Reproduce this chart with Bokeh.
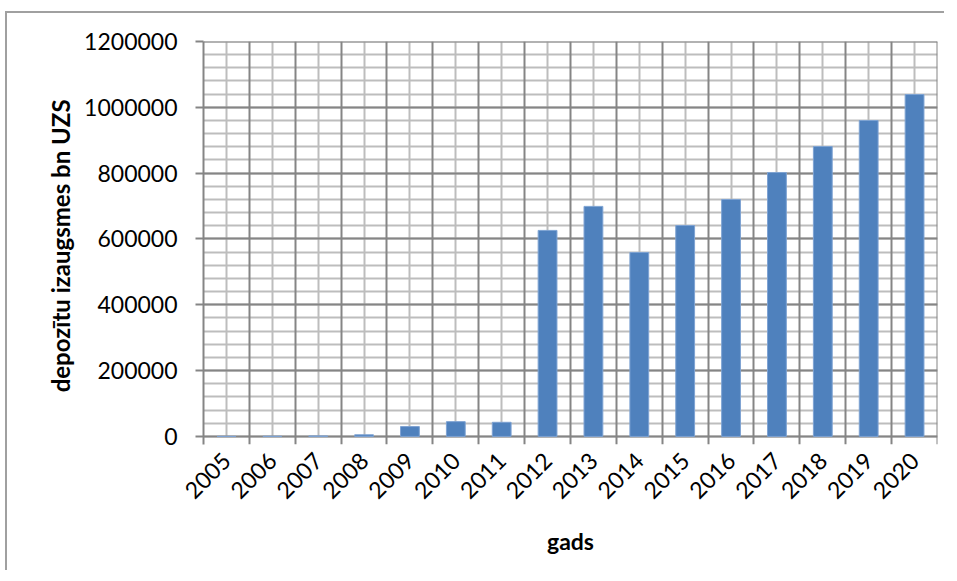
import math
from bokeh.plotting import figure
from bokeh.models import (Range1d, FixedTicker, SingleIntervalTicker, Grid,
                          CustomJSTickFormatter, ColumnDataSource)
from bokeh.embed import file_html
from bokeh.resources import INLINE

years = ["2005", "2006", "2007", "2008", "2009", "2010", "2011", "2012",
         "2013", "2014", "2015", "2016", "2017", "2018", "2019", "2020"]
deposits = [0, 300, 1500, 5000, 30000, 45000, 43000, 626000,
            699000, 559000, 641000, 720000, 802000, 881000, 960000, 1039000]
y_max = 1200000
y_step = 200000

n = len(years)
xs = [i + 0.5 for i in range(n)]
src = ColumnDataSource(dict(x=xs, top=deposits, year=years))

FONT = "Lato"
DARK = "#858585"
LIGHT = "#bdbdbd"

p = figure(width=939, height=559,
           x_range=Range1d(0, n + 1e-4),
           y_range=Range1d(-24500, y_max * 1.000001),
           output_backend="svg", toolbar_location=None,
           min_border_left=196, min_border_top=28, min_border_right=9,
           min_border_bottom=128)
p.margin = (11, 0, 0, 5)
p.styles = {"border-left": "2px solid #a0a0a0", "border-top": "2px solid #a0a0a0"}
p.outline_line_color = None
p.background_fill_color = "white"

# grids
p.xgrid.ticker = FixedTicker(ticks=xs)
p.xgrid.grid_line_color = LIGHT
p.xgrid.grid_line_width = 2
p.xgrid.cross_bounds = (0, y_max)

yt = SingleIntervalTicker(interval=y_step, num_minor_ticks=5)
p.ygrid.ticker = yt
p.ygrid.bounds = (0, y_max)
p.ygrid.grid_line_color = DARK
p.ygrid.grid_line_width = 2
p.ygrid.minor_grid_line_color = LIGHT
p.ygrid.minor_grid_line_width = 2

major_x = Grid(dimension=0, ticker=FixedTicker(ticks=list(range(1, n + 1))),
               grid_line_color=DARK, grid_line_width=2)
p.add_layout(major_x)

p.vbar(x="x", top="top", width=0.41, source=src, fill_color="#4f81bd",
       line_color="#7ea3d3", line_width=1)

# x axis
p.xaxis.ticker = FixedTicker(ticks=xs)
p.xaxis.formatter = CustomJSTickFormatter(args=dict(labels=years),
                                          code="return labels[Math.floor(tick)]")
p.xaxis.major_label_orientation = math.pi / 4
p.xaxis.axis_line_color = None
p.xaxis.major_tick_line_color = None
p.xaxis.minor_tick_line_color = None
p.xaxis.major_label_text_font = FONT
p.xaxis.major_label_text_font_size = "23px"
p.xaxis.major_label_text_color = "black"
p.xaxis.major_label_standoff = 6
p.xaxis.axis_label = "gads"
p.xaxis.axis_label_text_font = FONT
p.xaxis.axis_label_text_font_style = "bold"
p.xaxis.axis_label_text_font_size = "23px"
p.xaxis.axis_label_text_color = "black"
p.xaxis.axis_label_standoff = 18

# y axis
p.yaxis.ticker = yt
p.yaxis.formatter.use_scientific = False
p.yaxis.axis_line_color = DARK
p.yaxis.axis_line_width = 2
p.yaxis.major_tick_line_color = DARK
p.yaxis.major_tick_line_width = 2
p.yaxis.major_tick_in = 0
p.yaxis.major_tick_out = 8
p.yaxis.minor_tick_line_color = None
p.yaxis.major_label_text_font = FONT
p.yaxis.major_label_text_font_size = "23px"
p.yaxis.major_label_text_color = "black"
p.yaxis.major_label_standoff = 18
p.yaxis.axis_label = "depozītu izaugsmes  bn UZS"
p.yaxis.axis_label_text_font = FONT
p.yaxis.axis_label_text_font_style = "bold"
p.yaxis.axis_label_text_font_size = "24px"
p.yaxis.axis_label_text_color = "black"
p.yaxis.axis_label_standoff = 6

open("out.html", "w").write(file_html(p, INLINE))
